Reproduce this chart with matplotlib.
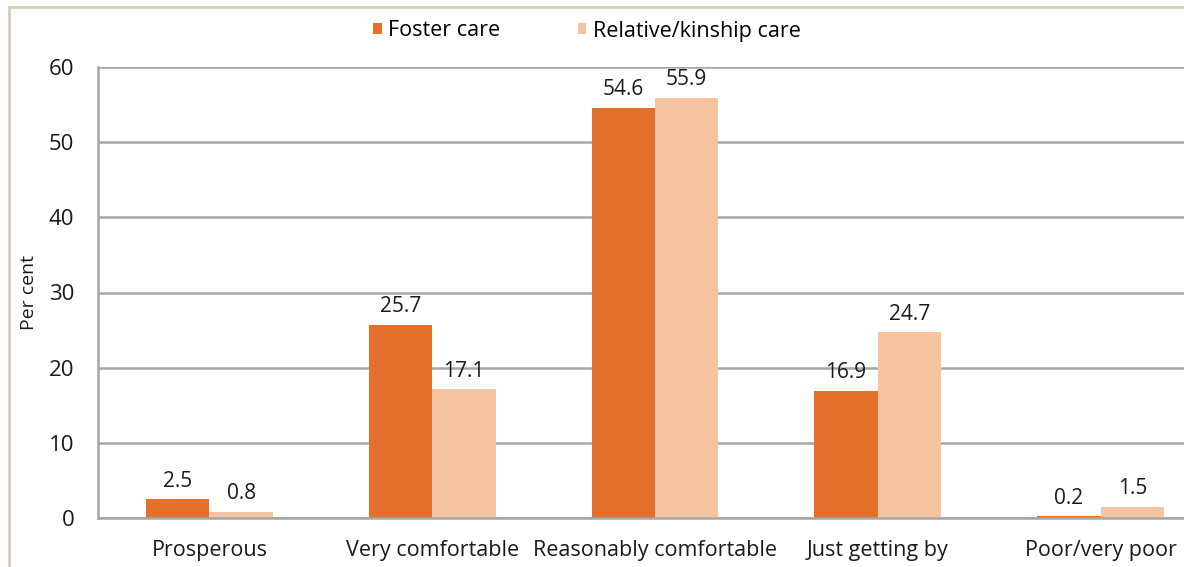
import numpy as np
import matplotlib
matplotlib.use("Agg")
import matplotlib.pyplot as plt
from matplotlib.patches import Rectangle

categories = ["Prosperous", "Very comfortable", "Reasonably comfortable",
              "Just getting by", "Poor/very poor"]
foster = [2.5, 25.7, 54.6, 16.9, 0.2]
kinship = [0.8, 17.1, 55.9, 24.7, 1.5]
series_names = ["Foster care", "Relative/kinship care"]
yticks = [0, 10, 20, 30, 40, 50, 60]

FOSTER_C = "#E4702C"
KIN_C = "#F7C4A1"
GRID_C = "#A6A6A6"
TXT_C = "#1a1a1a"

plt.rcParams["font.family"] = ["Open Sans", "DejaVu Sans"]

fig = plt.figure(figsize=(11.84, 5.67), dpi=100)
# outer frame
fig.patches.append(Rectangle((9 / 1184, -0.05), 1.2, (567 - 7) / 567 + 0.05,
                             transform=fig.transFigure, fill=False,
                             edgecolor="#D6CEBA", lw=2))
ax = fig.add_axes([98 / 1184, 1 - 518 / 567, 1114 / 1184, (518 - 67) / 567])

x = np.arange(len(categories))
w = 0.285
b1 = ax.bar(x - w / 2, foster, w, color=FOSTER_C, label=series_names[0])
b2 = ax.bar(x + w / 2, kinship, w, color=KIN_C, label=series_names[1])
for bars, vals in ((b1, foster), (b2, kinship)):
    for r, v in zip(bars, vals):
        ax.text(r.get_x() + r.get_width() / 2, v + 1.0, f"{v:.1f}",
                ha="center", va="bottom", fontsize=15, color=TXT_C)

ax.set_xlim(-0.5, len(categories) - 0.5)
ax.set_ylim(0, 60)
ax.set_yticks(yticks)
ax.set_xticks(x)
ax.set_xticklabels(categories, fontsize=15.5, color=TXT_C)
ax.tick_params(axis="y", labelsize=16, labelcolor=TXT_C, length=0, pad=17)
ax.tick_params(axis="x", length=0, pad=16)
ax.yaxis.grid(True, color=GRID_C, lw=1.8)
ax.set_axisbelow(True)
for s in ("top", "right"):
    ax.spines[s].set_visible(False)
for s in ("left", "bottom"):
    ax.spines[s].set_color(GRID_C)
    ax.spines[s].set_linewidth(1.8)
ax.set_ylabel("Per cent", fontsize=14, color=TXT_C, labelpad=8)

fig.legend(handles=[b1, b2], loc="center", bbox_to_anchor=(587 / 1184, 1 - 31 / 567),
           ncol=2, frameon=False, fontsize=15.5, handlelength=0.4, handleheight=0.4,
           handletextpad=0.3, columnspacing=3.6)

fig.savefig("out.png", dpi=100)
